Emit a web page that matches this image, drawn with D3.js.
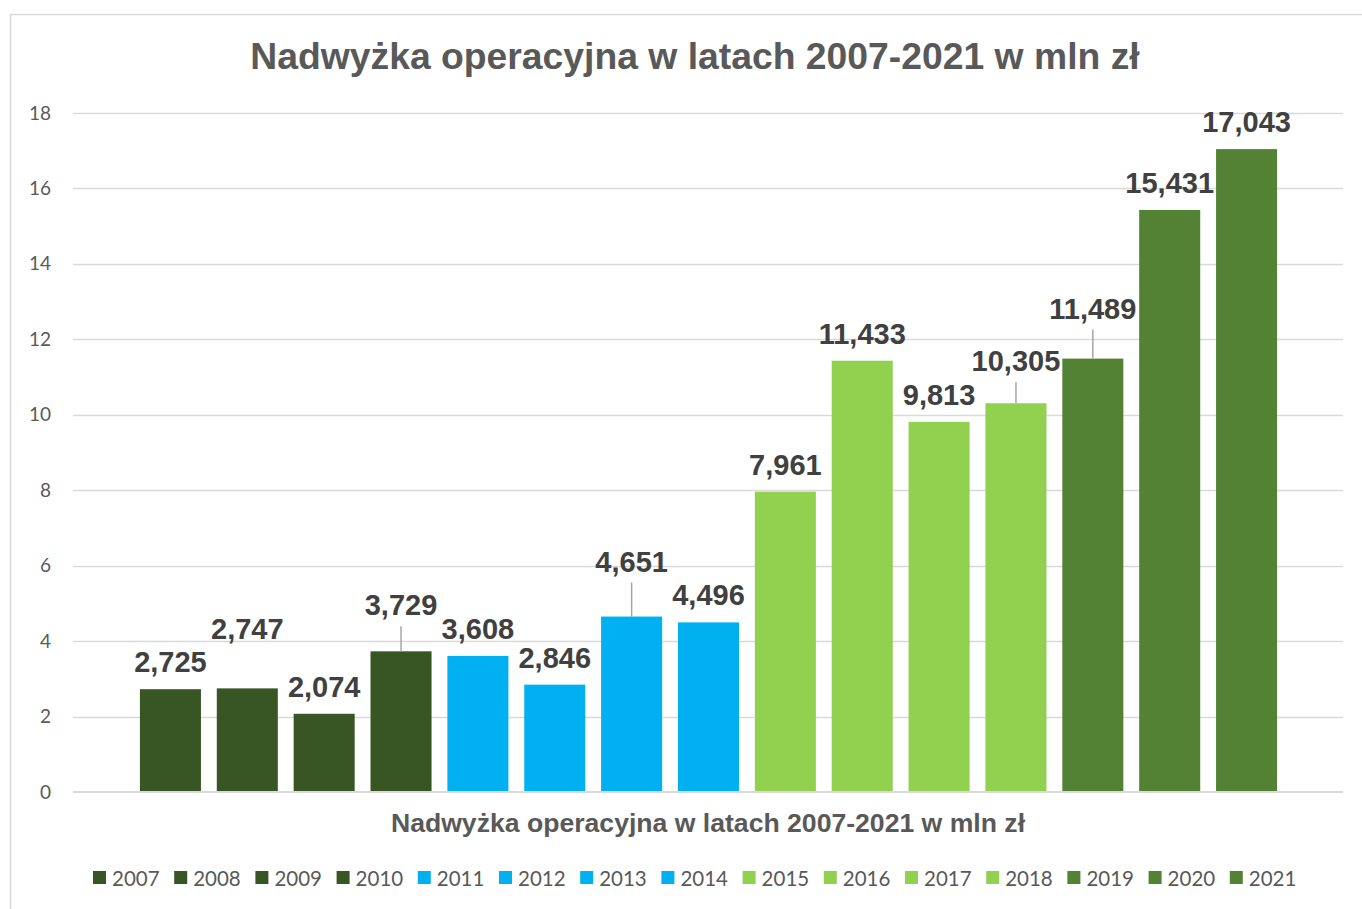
<!DOCTYPE html>
<html>
<head>
<meta charset="utf-8">
<script src="https://cdn.jsdelivr.net/npm/d3@7"></script>
<style>
  html, body { margin: 0; padding: 0; background: #ffffff; }
  svg { display: block; }
</style>
</head>
<body>
<svg id="chart" width="1362" height="909"></svg>
<script>
// ---- data ----
const years = ["2007","2008","2009","2010","2011","2012","2013","2014","2015","2016","2017","2018","2019","2020","2021"];
const values = [2.725, 2.747, 2.074, 3.729, 3.608, 2.846, 4.651, 4.496, 7.961, 11.433, 9.813, 10.305, 11.489, 15.431, 17.043];
const valueLabels = ["2,725","2,747","2,074","3,729","3,608","2,846","4,651","4,496","7,961","11,433","9,813","10,305","11,489","15,431","17,043"];
const groups = ["a","a","a","a","b","b","b","b","c","c","c","c","d","d","d"];
const yTicks = [0, 2, 4, 6, 8, 10, 12, 14, 16, 18];
const titleText = "Nadwyżka operacyjna w latach 2007-2021 w mln zł";
const axisTitleText = "Nadwyżka operacyjna w latach 2007-2021 w mln zł";

// ---- styles / layout ----
const groupColor = {a: "#375623", b: "#00B0F0", c: "#92D050", d: "#548235"};
// manual data-label displacement (px, upward) and which ones get a leader line
const labelLift = {"2008": 32, "2010": 19, "2013": 28, "2018": 15, "2019": 23};
const leaderYears = ["2010", "2013", "2018", "2019"];

const svg = d3.select("#chart");

// chart frame
svg.append("rect")
  .attr("x", 10.5).attr("y", 14.5)
  .attr("width", 1400).attr("height", 950)
  .attr("fill", "#ffffff")
  .attr("stroke", "#D9D9D9").attr("stroke-width", 1.5);

const gridLeft = 73, gridRight = 1343;
const x = d3.scaleBand().domain(years).range([132, 1285]).paddingInner(0.206).paddingOuter(0.103);
const y = d3.scaleLinear().domain([0, 18]).range([792, 113]);

// gridlines
svg.append("g").selectAll("line").data(yTicks.filter(t => t !== 0)).join("line")
  .attr("x1", gridLeft).attr("x2", gridRight)
  .attr("y1", d => Math.round(y(d)) + 0.5).attr("y2", d => Math.round(y(d)) + 0.5)
  .attr("stroke", "#D9D9D9").attr("stroke-width", 1.5);

// y axis labels via d3 axis
const yAxis = d3.axisLeft(y).tickValues(yTicks).tickSize(0).tickPadding(0);
const yg = svg.append("g").attr("transform", `translate(51,0)`).call(yAxis);
yg.select(".domain").remove();
yg.selectAll("text")
  .attr("font-family", "Lato, 'Open Sans', sans-serif")
  .attr("font-size", 19)
  .attr("fill", "#595959");

// bars
svg.append("g").selectAll("rect").data(years).join("rect")
  .attr("x", d => x(d))
  .attr("width", x.bandwidth())
  .attr("y", (d, i) => y(values[i]))
  .attr("height", (d, i) => y(0) - y(values[i]))
  .attr("fill", (d, i) => groupColor[groups[i]]);

// baseline axis
svg.append("line")
  .attr("x1", gridLeft).attr("x2", gridRight)
  .attr("y1", 792).attr("y2", 792)
  .attr("stroke", "#D9D9D9").attr("stroke-width", 2);

// leader lines
svg.append("g").selectAll("line").data(leaderYears).join("line")
  .attr("x1", d => x(d) + x.bandwidth() / 2).attr("x2", d => x(d) + x.bandwidth() / 2)
  .attr("y1", d => y(values[years.indexOf(d)]) - 17 - labelLift[d] + 11)
  .attr("y2", d => y(values[years.indexOf(d)]))
  .attr("stroke", "#A6A6A6").attr("stroke-width", 1.5);

// data labels
svg.append("g").selectAll("text").data(years).join("text")
  .attr("x", d => x(d) + x.bandwidth() / 2)
  .attr("y", (d, i) => y(values[i]) - 17 - (labelLift[d] || 0))
  .attr("text-anchor", "middle")
  .attr("font-family", "'Liberation Sans', Arial, sans-serif")
  .attr("font-weight", "bold")
  .attr("font-size", 29)
  .attr("fill", "#404040")
  .text((d, i) => valueLabels[i]);

// title
svg.append("text")
  .attr("x", 695).attr("y", 69)
  .attr("text-anchor", "middle")
  .attr("font-family", "'Liberation Sans', Arial, sans-serif")
  .attr("font-weight", "bold")
  .attr("font-size", 37.3)
  .attr("fill", "#595959")
  .text(titleText);

// axis title
svg.append("text")
  .attr("x", 708).attr("y", 832)
  .attr("text-anchor", "middle")
  .attr("font-family", "'Liberation Sans', Arial, sans-serif")
  .attr("font-weight", "bold")
  .attr("font-size", 26.6)
  .attr("fill", "#595959")
  .text(axisTitleText);

// legend
const legendStep = 81.2, legendX0 = 93;
const lg = svg.append("g").selectAll("g").data(years).join("g")
  .attr("transform", (d, i) => `translate(${legendX0 + i * legendStep},0)`);
lg.append("rect")
  .attr("x", 0).attr("y", 871).attr("width", 13).attr("height", 13)
  .attr("fill", (d, i) => groupColor[groups[i]]);
lg.append("text")
  .attr("x", 19).attr("y", 886)
  .attr("font-family", "Lato, 'Open Sans', sans-serif")
  .attr("font-size", 20.5)
  .attr("fill", "#595959")
  .text(d => d);
</script>
</body>
</html>
